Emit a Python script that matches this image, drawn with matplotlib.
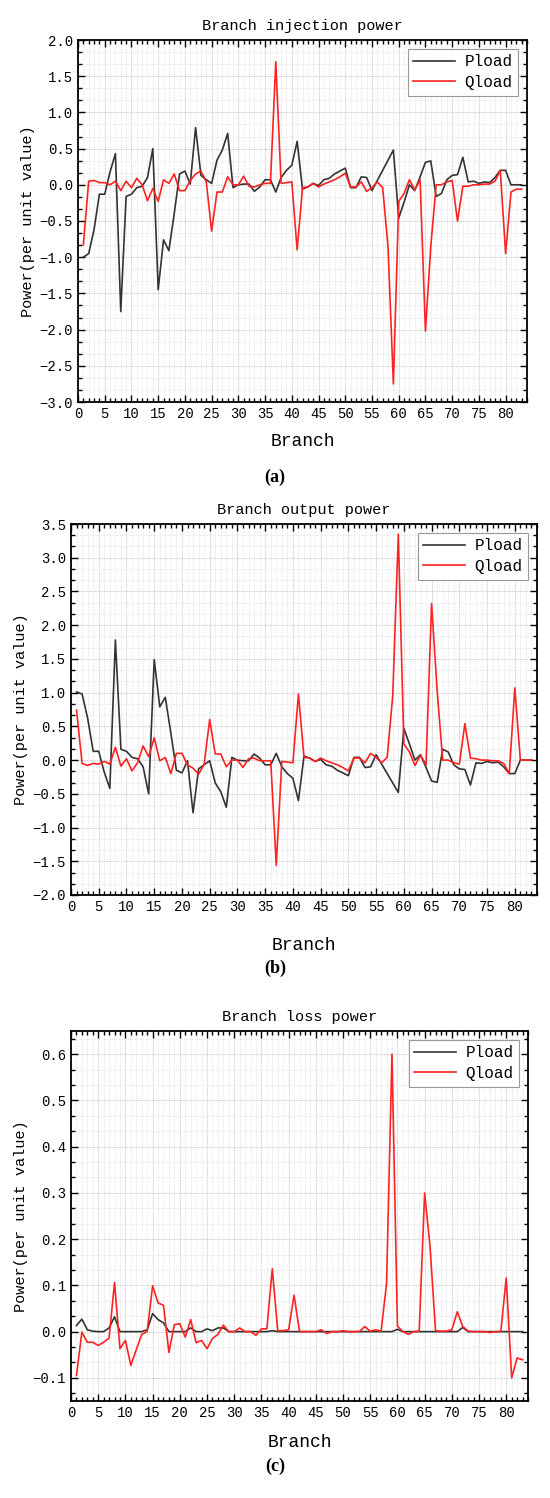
import numpy as np
import matplotlib
matplotlib.use('Agg')
import matplotlib.pyplot as plt
from matplotlib.ticker import MultipleLocator, AutoMinorLocator

plt.rcParams['font.family'] = ['Liberation Mono', 'DejaVu Sans']
plt.rcParams['axes.unicode_minus'] = True

branch = np.arange(1, 84)

# Branch injection power (a)
p_inj = [-1.00, -0.95, -0.62, -0.13, -0.13, 0.18, 0.43, -1.75, -0.16, -0.13,
         -0.04, -0.02, 0.10, 0.50, -1.45, -0.76, -0.91, -0.40, 0.15, 0.19,
         0.01, 0.79, 0.13, 0.07, 0.02, 0.34, 0.48, 0.71, -0.04, 0.00,
         0.01, 0.01, -0.09, -0.03, 0.07, 0.07, -0.10, 0.10, 0.20, 0.27,
         0.60, -0.06, -0.03, 0.02, -0.01, 0.07, 0.09, 0.15, 0.19, 0.23,
         -0.04, -0.04, 0.11, 0.10, -0.08, 0.06, 0.20, 0.34, 0.48, -0.46,
         -0.24, 0.00, -0.08, 0.11, 0.31, 0.33, -0.16, -0.12, 0.07, 0.13,
         0.14, 0.38, 0.04, 0.05, 0.02, 0.04, 0.03, 0.10, 0.20, 0.20,
         0.00, 0.00, 0.00]
q_inj = [-0.83, 0.05, 0.06, 0.03, 0.03, 0.00, 0.05, -0.08, 0.05, -0.04,
         0.09, 0.00, -0.22, -0.05, -0.23, 0.07, 0.02, 0.15, -0.08, -0.08,
         0.06, 0.15, 0.19, 0.04, -0.64, -0.10, -0.10, 0.11, 0.00, 0.00,
         0.12, -0.02, -0.03, 0.00, 0.02, 0.02, 1.70, 0.02, 0.03, 0.04,
         -0.90, -0.04, -0.03, 0.02, -0.03, 0.01, 0.04, 0.07, 0.11, 0.16,
         -0.03, -0.03, 0.04, -0.09, -0.04, 0.04, -0.04, -0.86, -2.75, -0.23,
         -0.12, 0.07, -0.07, 0.07, -2.02, -0.85, 0.00, 0.00, 0.04, 0.06,
         -0.50, -0.02, -0.02, 0.00, 0.00, 0.01, 0.01, 0.05, 0.20, -0.95,
         -0.10, -0.06, -0.06]

# Branch output power (b)
p_out = [1.01, 0.98, 0.62, 0.13, 0.13, -0.18, -0.42, 1.78, 0.16, 0.13,
         0.04, 0.02, -0.10, -0.50, 1.49, 0.79, 0.93, 0.40, -0.15, -0.19,
         -0.01, -0.78, -0.13, -0.07, -0.01, -0.34, -0.47, -0.70, 0.04, 0.00,
         -0.01, -0.01, 0.09, 0.03, -0.07, -0.07, 0.10, -0.10, -0.20, -0.27,
         -0.60, 0.06, 0.03, -0.02, 0.01, -0.07, -0.09, -0.15, -0.19, -0.23,
         0.04, 0.04, -0.11, -0.10, 0.08, -0.06, -0.20, -0.34, -0.48, 0.47,
         0.24, 0.00, 0.08, -0.11, -0.31, -0.33, 0.16, 0.12, -0.07, -0.13,
         -0.14, -0.37, -0.04, -0.05, -0.02, -0.04, -0.03, -0.10, -0.20, -0.20,
         0.00, 0.00, 0.00]
q_out = [0.74, -0.05, -0.08, -0.05, -0.06, -0.02, -0.06, 0.19, -0.09, 0.02,
         -0.16, -0.04, 0.21, 0.05, 0.33, -0.01, 0.04, -0.20, 0.10, 0.10,
         -0.07, -0.12, -0.21, -0.06, 0.60, 0.09, 0.09, -0.10, 0.00, 0.00,
         -0.11, 0.02, 0.03, -0.01, -0.01, -0.01, -1.56, -0.02, -0.03, -0.04,
         0.98, 0.04, 0.03, -0.02, 0.03, -0.01, -0.04, -0.07, -0.11, -0.16,
         0.03, 0.03, -0.04, 0.10, 0.04, -0.04, 0.04, 0.96, 3.35, 0.24,
         0.12, -0.08, 0.07, -0.07, 2.32, 1.03, 0.00, 0.00, -0.04, -0.06,
         0.54, 0.03, 0.02, 0.00, 0.00, -0.01, -0.01, -0.05, -0.20, 1.07,
         0.00, 0.00, 0.00]

# Branch loss power (c)
p_loss = [0.013, 0.027, 0.004, 0.001, 0.0, 0.0, 0.008, 0.032, 0.0, 0.0,
          0.0, 0.0, 0.0, 0.004, 0.039, 0.026, 0.019, 0.0, 0.0, 0.0,
          0.0, 0.008, 0.0, 0.0, 0.006, 0.002, 0.008, 0.008, 0.0, 0.0,
          0.0, 0.0, 0.0, 0.0, 0.0, 0.0, 0.002, 0.0, 0.0, 0.0,
          0.0, 0.0, 0.0, 0.0, 0.0, 0.0, 0.0, 0.0, 0.0, 0.0,
          0.0, 0.0, 0.0, 0.0, 0.0, 0.0, 0.0, 0.0, 0.0, 0.005,
          0.0, 0.0, 0.0, 0.0, 0.0, 0.0, 0.0, 0.0, 0.0, 0.0,
          0.0, 0.009, 0.0, 0.0, 0.0, 0.0, 0.0, 0.0, 0.0, 0.0,
          0.0, 0.0, 0.0]
q_loss = [-0.095, -0.001, -0.023, -0.023, -0.030, -0.023, -0.014, 0.106, -0.037, -0.019,
          -0.073, -0.039, -0.006, 0.000, 0.099, 0.062, 0.057, -0.045, 0.015, 0.017,
          -0.012, 0.026, -0.024, -0.019, -0.037, -0.015, -0.006, 0.014, 0.000, 0.000,
          0.008, 0.000, 0.000, -0.008, 0.006, 0.006, 0.136, 0.002, 0.002, 0.004,
          0.079, 0.000, 0.000, 0.000, 0.000, 0.004, -0.004, 0.000, 0.000, 0.002,
          0.000, 0.000, 0.000, 0.011, 0.001, 0.004, 0.001, 0.104, 0.600, 0.012,
          0.000, -0.006, 0.000, 0.001, 0.300, 0.183, 0.002, 0.001, 0.001, 0.004,
          0.043, 0.011, 0.001, 0.000, 0.000, 0.000, -0.002, 0.000, 0.000, 0.116,
          -0.100, -0.057, -0.061]

W, H = 550, 1498
fig = plt.figure(figsize=(W / 100, H / 100), dpi=100)

def frac(left, right, top, bottom):
    return [left / W, 1 - bottom / H, (right - left) / W, (bottom - top) / H]

panels = [
    (frac(78, 527, 40, 402), p_inj, q_inj, 'Branch injection power', (-3.0, 2.0), 0.5, '(a)', 477, 7, 9),
    (frac(71, 537, 524, 895), p_out, q_out, 'Branch output power', (-2.0, 3.5), 0.5, '(b)', 968, 7, 17),
    (frac(71, 528, 1031, 1401), p_loss, q_loss, 'Branch loss power', (-0.15, 0.65), 0.1, '(c)', 1466, 7, 10),
]

for rect, p, q, title, ylim, ystep, tag, tag_y, tpad, xpad in panels:
    ax = fig.add_axes(rect)
    ax.plot(branch, p, color='#333333', lw=1.2, label='Pload')
    ax.plot(branch, q, color='#ff2222', lw=1.2, label='Qload')
    ax.set_xlim(0, 84)
    ax.set_ylim(*ylim)
    ax.xaxis.set_major_locator(MultipleLocator(5))
    ax.xaxis.set_minor_locator(MultipleLocator(1))
    ax.yaxis.set_major_locator(MultipleLocator(ystep))
    ax.yaxis.set_minor_locator(AutoMinorLocator(3))
    ax.set_xticks(np.arange(0, 81, 5))
    ax.grid(which='major', color='#cccccc', lw=0.6, ls=(0, (2, 1)))
    ax.grid(which='minor', color='#e4e4e4', lw=0.5, ls=(0, (2, 1)))
    ax.set_axisbelow(True)
    ax.tick_params(which='both', direction='in', top=True, right=True, labelsize=10, width=1.0)
    ax.tick_params(which='major', length=5)
    ax.tick_params(which='minor', length=3)
    for s in ax.spines.values():
        s.set_linewidth(1.3)
    ax.set_title(title, fontsize=11, pad=tpad)
    ax.set_xlabel('Branch', fontsize=13, labelpad=xpad)
    ax.set_ylabel('Power(per unit value)', fontsize=11, labelpad=3)
    leg = ax.legend(loc='upper right', fontsize=11.5, fancybox=False, framealpha=1,
                    edgecolor='#999999', handlelength=2.6, borderpad=0.35,
                    labelspacing=0.35, borderaxespad=0.55, handletextpad=0.6)
    leg.get_frame().set_linewidth(0.8)
    fig.text(0.5, 1 - tag_y / H, tag, ha='center', va='center', fontsize=13,
             family='Liberation Serif', fontweight='bold')

fig.savefig('out.png', dpi=100)
